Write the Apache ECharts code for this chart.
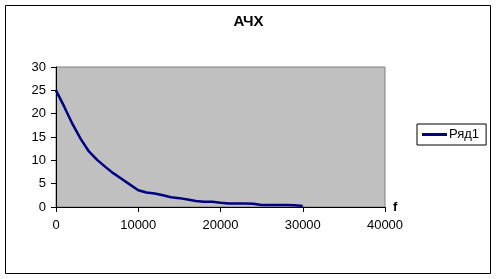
<!DOCTYPE html>
<html><head><meta charset="utf-8">
<script src="https://cdn.jsdelivr.net/npm/echarts@6/dist/echarts.min.js"></script>
<style>html,body{margin:0;padding:0;background:#fff}#c{width:497px;height:279px}</style>
</head><body><div id="c"></div>
<script>
const titleText = 'АЧХ';
const seriesName = 'Ряд1';
const xName = 'f';
const freq = [0,1000,2000,3000,4000,5000,6000,7000,8000,9000,10000,11000,12000,13000,14000,15000,16000,17000,18000,19000,20000,21000,22000,23000,24000,25000,26000,27000,28000,29000,30000];
const amp  = [25,21.5,17.8,14.6,11.9,10.1,8.6,7.2,6.0,4.8,3.6,3.1,2.9,2.5,2.1,1.9,1.6,1.3,1.1,1.1,0.9,0.75,0.75,0.75,0.7,0.45,0.45,0.45,0.45,0.4,0.2];

const chart = echarts.init(document.getElementById('c'), null, {renderer:'canvas'});
const font = 'Liberation Sans, Arial, sans-serif';
chart.setOption({
  animation:false,
  textStyle:{fontFamily:font},
  graphic:[{type:'rect', shape:{x:5.5,y:5.5,width:485,height:268}, style:{fill:'none',stroke:'#000',lineWidth:1}, z:-1}],
  title:{text:titleText, left:'center', top:14, itemGap:0, padding:0,
    textStyle:{fontFamily:font,fontSize:15,fontWeight:'bold',color:'#000'}},
  legend:{left:417, top:124, orient:'vertical', padding:[4,7,4,5], borderColor:'#000', borderWidth:1,
    itemWidth:25, itemHeight:3, itemGap:2, icon:'rect',
    textStyle:{fontFamily:font,fontSize:13,color:'#000',padding:[0,0,0,-3]},
    data:[seriesName]},
  grid:{left:56, right:112, top:67, bottom:72, show:true, backgroundColor:'#C0C0C0', borderColor:'#808080', borderWidth:1},
  xAxis:{type:'value', min:0, max:40000, interval:10000, name:xName, nameLocation:'end', nameGap:8,
    nameTextStyle:{fontFamily:font,fontSize:13,fontWeight:'bold',color:'#000',padding:[0,0,14,0]},
    axisLine:{show:true,lineStyle:{color:'#000',width:1}},
    axisTick:{show:true,length:5,lineStyle:{color:'#000'}},
    axisLabel:{fontFamily:font,fontSize:13,color:'#000',margin:12,formatter:v=>String(v)},
    splitLine:{show:false}},
  yAxis:{type:'value', min:0, max:30, interval:5,
    axisLine:{show:true,lineStyle:{color:'#000',width:1}},
    axisTick:{show:true,length:5,lineStyle:{color:'#000'}},
    axisLabel:{fontFamily:font,fontSize:13,color:'#000',margin:10},
    splitLine:{show:false}},
  series:[{name:seriesName, type:'line', data:freq.map((f,i)=>[f,amp[i]]), showSymbol:false, symbol:'none',
    lineStyle:{color:'#000080',width:2.5}, itemStyle:{color:'#000080'}}]
});
</script></body></html>
